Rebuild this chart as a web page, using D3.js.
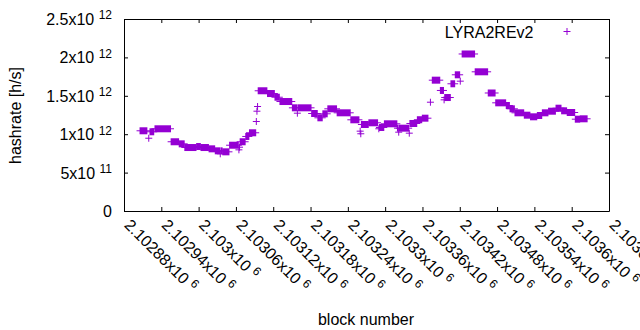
<!DOCTYPE html>
<html>
<head>
<meta charset="utf-8">
<script src="https://cdn.jsdelivr.net/npm/d3@7"></script>
<style>
  html, body { margin: 0; padding: 0; background: #fff; }
  svg { display: block; font-family: "Liberation Sans", Arial, sans-serif; }
</style>
</head>
<body>
<div id="chart"></div>
<script>
// ---- data (runs of consecutive blocks sharing the same hashrate) ----
const runStart = [2102905,2102919,2102921,2102929,2102955,2102968,2102977,2102996,2103003,2103016,
  2103026,2103034,2103035,2103038,2103049,2103064,2103065,2103066,2103075,2103081,
  2103092,2103093,2103094,2103095,2103110,2103122,2103130,2103150,2103158,2103159,
  2103181,2103191,2103199,2103207,2103222,2103244,2103259,2103260,2103261,2103273,
  2103289,2103290,2103298,2103319,2103321,2103322,2103338,2103339,2103351,2103359,
  2103372,2103375,2103388,2103394,2103395,2103405,2103412,2103420,2103423,2103444,
  2103465,2103477,2103494,2103500,2103508,2103523,2103533,2103544,2103552,2103562,
  2103574,2103583,2103592,2103605,2103613];
const runEnd = [2102916,2102919,2102927,2102954,2102967,2102976,2102995,2103002,2103015,2103025,
  2103033,2103034,2103037,2103048,2103063,2103064,2103065,2103074,2103080,2103091,
  2103092,2103093,2103094,2103109,2103121,2103129,2103149,2103157,2103158,2103180,
  2103190,2103198,2103206,2103221,2103243,2103257,2103259,2103260,2103272,2103287,
  2103289,2103297,2103318,2103320,2103321,2103337,2103338,2103350,2103358,2103368,
  2103372,2103387,2103393,2103394,2103404,2103411,2103419,2103420,2103443,2103464,
  2103476,2103493,2103499,2103507,2103522,2103532,2103543,2103551,2103561,2103573,
  2103582,2103591,2103604,2103612,2103624];
const hashrate = [1.051e12,0.954e12,1.038e12,1.077e12,0.908e12,0.881e12,0.833e12,0.846e12,0.833e12,0.816e12,
  0.790e12,0.751e12,0.790e12,0.777e12,0.863e12,0.803e12,0.837e12,0.908e12,0.977e12,1.025e12,
  1.172e12,1.306e12,1.367e12,1.572e12,1.536e12,1.488e12,1.432e12,1.350e12,1.280e12,1.350e12,
  1.276e12,1.220e12,1.272e12,1.337e12,1.285e12,1.194e12,1.046e12,1.012e12,1.133e12,1.155e12,
  1.077e12,1.094e12,1.142e12,1.085e12,1.033e12,1.085e12,1.020e12,1.146e12,1.195e12,1.215e12,
  1.423e12,1.710e12,1.576e12,1.454e12,1.484e12,1.663e12,1.780e12,1.697e12,2.051e12,1.819e12,
  1.543e12,1.415e12,1.380e12,1.337e12,1.285e12,1.254e12,1.233e12,1.250e12,1.285e12,1.306e12,
  1.345e12,1.311e12,1.289e12,1.202e12,1.207e12];

const xTickValues = [2102880,2102940,2103000,2103060,2103120,2103180,2103240,2103300,2103360,2103420,2103480,2103540,2103600,2103660];
const xTickMantissa = ["2.10288x10","2.10294x10","2.103x10","2.10306x10","2.10312x10","2.10318x10","2.10324x10","2.1033x10","2.10336x10","2.10342x10","2.10348x10","2.10354x10","2.1036x10","2.10366x10"];
const xTickExp = ["6","6","6","6","6","6","6","6","6","6","6","6","6","6"];
const yTickValues = [0,5e11,1e12,1.5e12,2e12,2.5e12];
const yTickMantissa = ["0","5x10","1x10","1.5x10","2x10","2.5x10"];
const yTickExp = ["","11","12","12","12","12"];
const seriesName = "LYRA2REv2";
const xTitle = "block number";
const yTitle = "hashrate [h/s]";

// ---- drawing ----
const W = 640, H = 330;
const color = "#9400d3";
const svg = d3.select("#chart").append("svg").attr("width", W).attr("height", H);

const x = d3.scaleLinear().domain([2102880, 2103660]).range([124, 609]);
const y = d3.scaleLinear().domain([0, 2.5e12]).range([211, 19]);

function styleAxis(g) {
  g.selectAll("path.domain").attr("stroke", "#000");
  g.selectAll(".tick line").attr("stroke", "#000");
  g.selectAll(".tick text").remove();
}
svg.append("g").attr("transform", "translate(0,211)")
  .call(d3.axisBottom(x).tickValues(xTickValues).tickSizeInner(-4).tickSizeOuter(0)).call(styleAxis);
svg.append("g").attr("transform", "translate(0,19)")
  .call(d3.axisTop(x).tickValues(xTickValues).tickSizeInner(-4).tickSizeOuter(0)).call(styleAxis);
svg.append("g").attr("transform", "translate(124,0)")
  .call(d3.axisLeft(y).tickValues(yTickValues).tickSizeInner(-4).tickSizeOuter(0)).call(styleAxis);
svg.append("g").attr("transform", "translate(609,0)")
  .call(d3.axisRight(y).tickValues(yTickValues).tickSizeInner(-4).tickSizeOuter(0)).call(styleAxis);

// y tick labels
yTickValues.forEach((v, i) => {
  const t = svg.append("text")
    .attr("x", 112).attr("y", y(v) + 0.5 + 5.5)
    .attr("text-anchor", "end").attr("font-size", 16).attr("fill", "#000");
  t.append("tspan").text(yTickMantissa[i]);
  if (yTickExp[i]) {
    t.append("tspan").text("\u00a0");
    t.append("tspan").attr("font-size", 12).attr("dy", -5.7).text(yTickExp[i]);
  }
});

// x tick labels (rotated)
xTickValues.forEach((v, i) => {
  const t = svg.append("text")
    .attr("transform", `translate(${x(v) - 0.5},${226}) rotate(45)`)
    .attr("text-anchor", "start").attr("font-size", 16).attr("fill", "#000");
  t.append("tspan").text(xTickMantissa[i]);
  t.append("tspan").text("\u00a0");
  t.append("tspan").attr("font-size", 12).attr("dy", -5.7).text(xTickExp[i]);
});

// axis titles
svg.append("text").attr("transform", "translate(21,115.5) rotate(-90)")
  .attr("text-anchor", "middle").attr("font-size", 16).attr("fill", "#000").text(yTitle);
svg.append("text").attr("x", 366).attr("y", 325)
  .attr("text-anchor", "middle").attr("font-size", 16).attr("fill", "#000").text(xTitle);

// data: each run of '+' markers
const runs = runStart.map((s, i) => ({ s, e: runEnd[i], v: hashrate[i] }));
const arm = 3.5;
const gData = svg.append("g");
gData.selectAll("rect.run").data(runs).join("rect").attr("class", "run")
  .attr("x", d => x(d.s))
  .attr("width", d => x(d.e) - x(d.s) + 1)
  .attr("y", d => y(d.v) + 0.5 - arm)
  .attr("height", 2 * arm)
  .attr("fill", color);
gData.selectAll("path.run").data(runs).join("path").attr("class", "run")
  .attr("d", d => `M${x(d.s) + 0.5 - arm},${y(d.v) + 0.5}H${x(d.e) + 0.5 + arm}`)
  .attr("stroke", color).attr("stroke-width", 1).attr("fill", "none");

// legend
svg.append("text").attr("x", 533.5).attr("y", 37.5).attr("text-anchor", "end")
  .attr("font-size", 16).attr("fill", "#000").text(seriesName);
svg.append("path")
  .attr("d", `M${567 - arm},31.5H${567 + arm}M567,${31.5 - arm}V${31.5 + arm}`)
  .attr("stroke", color).attr("stroke-width", 1).attr("fill", "none");
</script>
</body>
</html>
